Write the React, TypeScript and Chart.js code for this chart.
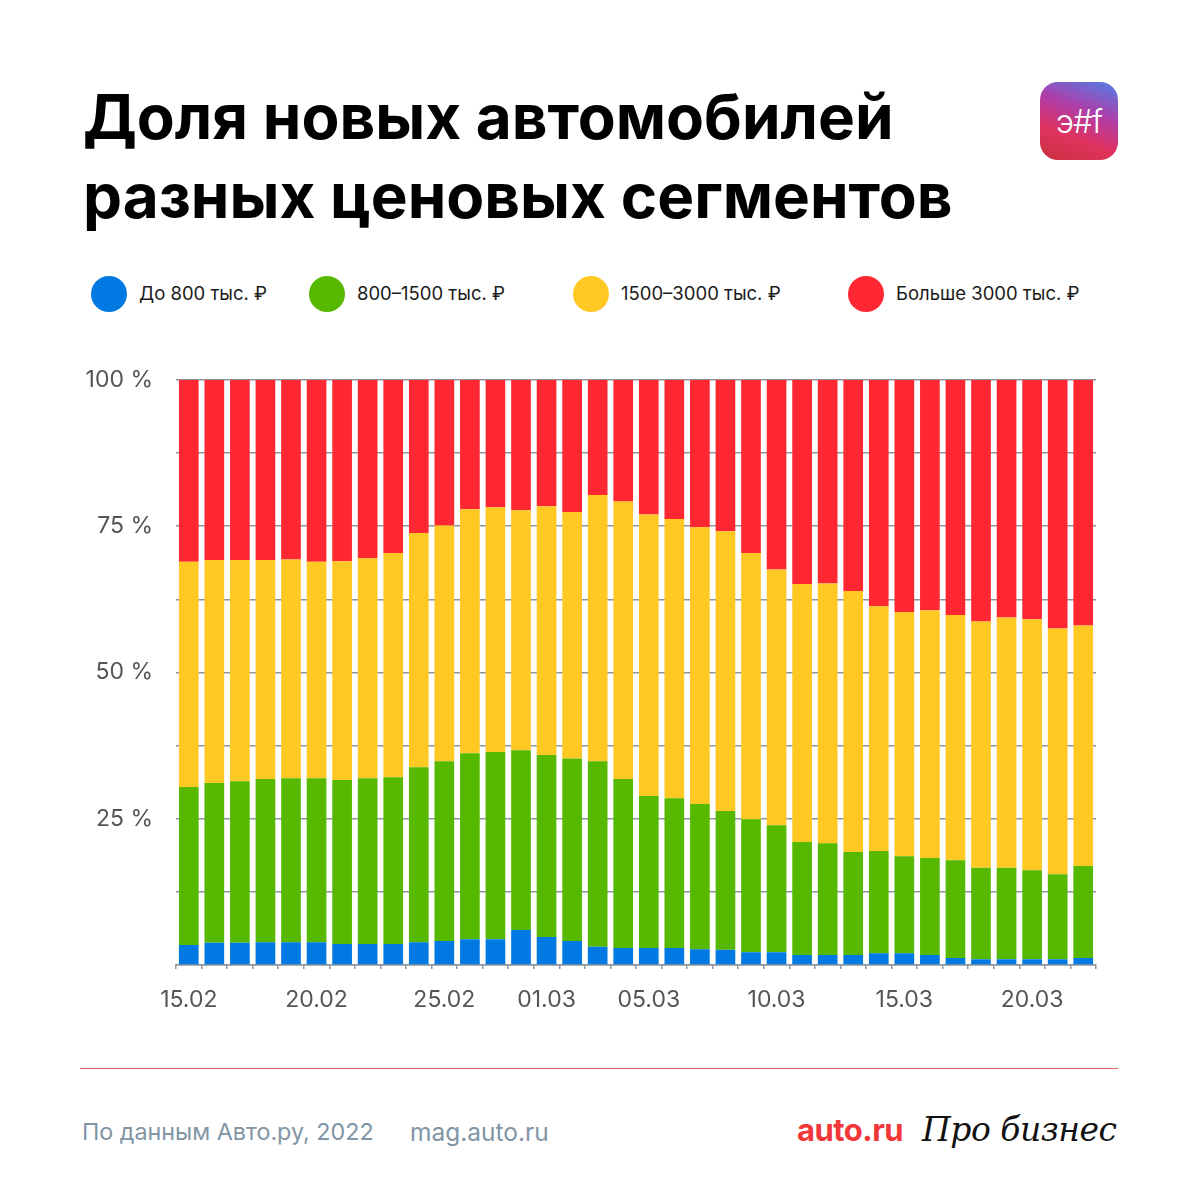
import React, { useEffect, useRef } from 'react';
import { Chart, registerables } from 'chart.js';

Chart.register(...registerables);

const dates = [
  '15.02', '16.02', '17.02', '18.02', '19.02', '20.02', '21.02', '22.02', '23.02', '24.02',
  '25.02', '26.02', '27.02', '28.02', '01.03', '02.03', '03.03', '04.03', '05.03', '06.03',
  '07.03', '08.03', '09.03', '10.03', '11.03', '12.03', '13.03', '14.03', '15.03', '16.03',
  '17.03', '18.03', '19.03', '20.03', '21.03', '22.03',
];

const upTo800 = [
  3.4, 3.8, 3.8, 3.9, 3.9, 3.9, 3.6, 3.6, 3.6, 3.9,
  4.1, 4.4, 4.4, 6.0, 4.8, 4.1, 3.1, 2.9, 2.9, 2.9,
  2.7, 2.6, 2.2, 2.2, 1.7, 1.7, 1.7, 2.0, 2.0, 1.7,
  1.2, 1.0, 1.0, 1.0, 1.0, 1.2,
];

const from800to1500 = [
  27.0, 27.3, 27.6, 27.9, 28.0, 28.0, 28.0, 28.3, 28.5, 29.9,
  30.7, 31.8, 32.0, 30.7, 31.1, 31.2, 31.7, 28.9, 26.0, 25.6,
  24.8, 23.7, 22.7, 21.7, 19.3, 19.1, 17.6, 17.5, 16.6, 16.6,
  16.7, 15.6, 15.6, 15.2, 14.5, 15.7,
];

const from1500to3000 = [
  38.5, 38.1, 37.8, 37.4, 37.4, 37.0, 37.4, 37.6, 38.3, 40.0,
  40.3, 41.7, 41.8, 41.0, 42.5, 42.1, 45.5, 47.4, 48.1, 47.7,
  47.3, 47.8, 45.5, 43.7, 44.1, 44.4, 44.6, 41.8, 41.7, 42.3,
  41.9, 42.1, 42.8, 42.9, 42.0, 41.1,
];

const over3000 = [
  31.1, 30.8, 30.8, 30.8, 30.7, 31.1, 31.0, 30.5, 29.6, 26.2,
  24.9, 22.1, 21.8, 22.3, 21.6, 22.6, 19.7, 20.8, 23.0, 23.8,
  25.2, 25.9, 29.6, 32.4, 34.9, 34.8, 36.1, 38.7, 39.7, 39.4,
  40.2, 41.3, 40.6, 40.9, 42.5, 42.0,
];

const seriesNames = ['До 800 тыс. ₽', '800–1500 тыс. ₽', '1500–3000 тыс. ₽', 'Больше 3000 тыс. ₽'];
const seriesColors = ['#0079E2', '#56B900', '#FFC823', '#FF2731'];
const shownDates = ['15.02', '20.02', '25.02', '01.03', '05.03', '10.03', '15.03', '20.03'];
const labeledPercents = [25, 50, 75, 100];

const FONT = 'Inter, "Noto Sans", sans-serif';

const legendX = [109, 327, 591, 866];

export default function App() {
  const canvasRef = useRef<HTMLCanvasElement | null>(null);

  useEffect(() => {
    if (!canvasRef.current) return;
    const values = [upTo800, from800to1500, from1500to3000, over3000];
    const chart = new Chart(canvasRef.current, {
      type: 'bar',
      data: {
        labels: dates,
        datasets: values.map((d, i) => ({
          label: seriesNames[i],
          data: d,
          backgroundColor: seriesColors[i],
          borderWidth: 0,
          barPercentage: 0.77,
          categoryPercentage: 1,
        })),
      },
      options: {
        responsive: false,
        animation: false,
        layout: { padding: { top: 23, right: 24, left: 0, bottom: 0 } },
        plugins: { legend: { display: false }, tooltip: { enabled: false } },
        scales: {
          x: {
            stacked: true,
            afterFit: (axis: any) => { axis.height = 75; },
            grid: {
              display: true,
              drawOnChartArea: false,
              drawTicks: true,
              tickLength: 4,
              color: '#8C969E',
              lineWidth: 1.5,
            },
            border: { display: true, color: '#8C969E', width: 1.5 },
            ticks: {
              autoSkip: false,
              maxRotation: 0,
              padding: 17,
              color: '#555555',
              font: { family: FONT, size: 23 },
              callback: function (this: any, _v: any, idx: number) {
                const l = dates[idx];
                return shownDates.includes(l) ? l : '';
              },
            },
          },
          y: {
            stacked: true,
            min: 0,
            max: 100,
            afterFit: (axis: any) => { axis.width = 116; },
            grid: {
              color: '#8C969E',
              lineWidth: 1.5,
              drawTicks: false,
            },
            border: { display: false },
            ticks: {
              stepSize: 12.5,
              padding: 23,
              color: '#555555',
              font: { family: FONT, size: 23 },
              callback: (v: any) => (labeledPercents.includes(Number(v)) ? `${v} %` : ''),
            },
          },
        },
      },
    });
    return () => chart.destroy();
  }, []);

  return (
    <div
      style={{
        position: 'absolute',
        left: 0,
        top: 0,
        width: 1200,
        height: 1200,
        background: '#ffffff',
        fontFamily: FONT,
        overflow: 'hidden',
      }}
    >
      <div
        style={{
          position: 'absolute',
          left: 83,
          top: 77,
          fontSize: 62,
          fontWeight: 700,
          lineHeight: '79px',
          color: '#000',
          letterSpacing: '0px',
        }}
      >
        Доля новых автомобилей
        <br />
        разных ценовых сегментов
      </div>

      <div
        style={{
          position: 'absolute',
          left: 1040,
          top: 82,
          width: 78,
          height: 78,
          borderRadius: 18,
          background: 'linear-gradient(200deg, #4E7FE8 0%, #B03DA8 38%, #E0325E 68%, #C8303E 100%)',
          color: '#fff',
          display: 'flex',
          alignItems: 'center',
          justifyContent: 'center',
          fontSize: 32,
          fontWeight: 300,
          letterSpacing: '-1px',
        }}
      >
        э#f
      </div>

      {seriesNames.map((name, i) => (
        <div key={name}>
          <div
            style={{
              position: 'absolute',
              left: legendX[i] - 18,
              top: 276,
              width: 36,
              height: 36,
              borderRadius: '50%',
              background: seriesColors[i],
            }}
          />
          <div
            style={{
              position: 'absolute',
              left: legendX[i] + 30,
              top: 282,
              fontSize: 18.5,
              lineHeight: '22px',
              color: '#1A1A1A',
              whiteSpace: 'nowrap',
            }}
          >
            {name}
          </div>
        </div>
      ))}

      <div style={{ position: 'absolute', left: 60, top: 343, width: 1060, height: 697 }}>
        <canvas ref={canvasRef} width={1060} height={697} style={{ display: 'block' }} />
      </div>

      <div
        style={{
          position: 'absolute',
          left: 80,
          top: 1068,
          width: 1038,
          height: 1,
          background: '#D9675C',
        }}
      />

      <div
        style={{
          position: 'absolute',
          left: 82,
          top: 1117,
          fontSize: 23.3,
          lineHeight: '30px',
          color: '#8195A5',
          whiteSpace: 'nowrap',
        }}
      >
        По данным Авто.ру, 2022
      </div>
      <div
        style={{
          position: 'absolute',
          left: 410,
          top: 1117,
          fontSize: 24.5,
          lineHeight: '30px',
          color: '#8195A5',
          whiteSpace: 'nowrap',
        }}
      >
        mag.auto.ru
      </div>
      <div
        style={{
          position: 'absolute',
          left: 797,
          top: 1112,
          fontSize: 31,
          fontWeight: 700,
          lineHeight: '36px',
          color: '#F2373A',
          whiteSpace: 'nowrap',
          letterSpacing: '-0.5px',
        }}
      >
        auto.ru
      </div>
      <div
        style={{
          position: 'absolute',
          left: 922,
          top: 1111,
          fontSize: 33,
          fontStyle: 'italic',
          fontFamily: '"DejaVu Serif", serif',
          lineHeight: '38px',
          color: '#111',
          whiteSpace: 'nowrap',
          letterSpacing: '-0.5px',
        }}
      >
        Про бизнес
      </div>
    </div>
  );
}
